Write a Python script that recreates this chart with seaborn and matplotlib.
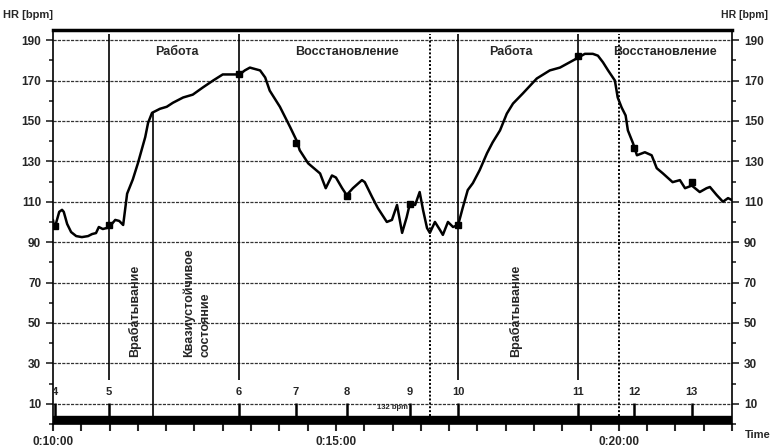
import numpy as np
import pandas as pd
import matplotlib.pyplot as plt
import seaborn as sns
from matplotlib.ticker import MultipleLocator, FuncFormatter

# heart rate trace, time in minutes of the session
time_min = [10.00, 10.02, 10.05, 10.11, 10.16, 10.19, 10.25, 10.32, 10.41, 10.51,
            10.62, 10.69, 10.76, 10.81, 10.88, 10.95, 11.01, 11.10, 11.17, 11.24,
            11.31, 11.41, 11.50, 11.57, 11.63, 11.68, 11.75, 11.89, 12.01, 12.12,
            12.30, 12.47, 12.65, 12.83, 13.00, 13.18, 13.30, 13.39, 13.48, 13.53,
            13.66, 13.75, 13.83, 14.01, 14.19, 14.31, 14.36, 14.51, 14.72, 14.82,
            14.93, 15.00, 15.11, 15.19, 15.30, 15.46, 15.51, 15.64, 15.74, 15.90,
            15.99, 16.08, 16.17, 16.25, 16.31, 16.40, 16.48, 16.54, 16.61, 16.66,
            16.75, 16.84, 16.89, 16.98, 17.07, 17.16, 17.24, 17.33, 17.42, 17.54,
            17.67, 17.77, 17.90, 18.02, 18.13, 18.30, 18.55, 18.78, 18.96, 19.13,
            19.28, 19.40, 19.54, 19.63, 19.72, 19.81, 19.93, 19.98, 20.05, 20.12,
            20.16, 20.25, 20.32, 20.46, 20.58, 20.67, 20.78, 20.95, 21.08, 21.17,
            21.29, 21.43, 21.55, 21.61, 21.73, 21.84, 21.93, 22.00]
hr_bpm = [101, 97, 99, 105, 106, 105, 99, 95, 93, 92.5,
          93, 94, 94.5, 97.5, 96.5, 97, 98, 101, 100.5, 98.5,
          114, 121, 129, 136, 142, 149, 154, 156, 157, 159,
          161.6, 163, 166.6, 170, 173, 173, 173, 175, 176.4, 176,
          175, 171.5, 165, 157, 147, 140, 135.5, 129, 124, 116.7,
          123, 122, 116.7, 113.3, 116.7, 120.7, 119.7, 112.3, 106.9, 100,
          101, 108.4, 94.6, 102.3, 109.4, 108.4, 114.8, 105.9, 97, 94.6,
          100, 96, 93.6, 100, 97.5, 98.5, 106.9, 115.8, 119.2, 125.6,
          134, 139.4, 145.3, 153.6, 158.6, 163.5, 171, 175, 176.4, 179,
          181.3, 183.2, 183.2, 182.3, 179, 175, 170, 161.6, 156.6, 152.7,
          145.3, 139, 133, 134.5, 133, 126.6, 124, 119.7, 120.7, 116.7,
          118, 114.8, 116.7, 117.3, 113.3, 110, 111.8, 110.8]

lap_no = [4, 5, 6, 7, 8, 9, 10, 11, 12, 13]
lap_time = [10.03, 10.99, 13.29, 14.29, 15.19, 16.31, 17.16, 19.28, 20.27, 21.29]
lap_hr = [98, 98.5, 173, 139, 113, 109, 98.5, 182, 136.5, 120]
long_laps = [5, 6, 10, 11]

phase_labels = ["Работа", "Восстановление", "Работа", "Восстановление"]
phase_x = [12.19, 15.19, 18.09, 20.81]
side_labels = ["Врабатывание", "Квазиустойчивое\nсостояние", "Врабатывание"]
side_x = [11.45, 12.55, 18.18]

df = pd.DataFrame({"t": time_min, "hr": hr_bpm})

sns.set_style("white")
plt.rcParams['font.family'] = ['Liberation Sans', 'DejaVu Sans']

fig = plt.figure(figsize=(7.7, 4.48), dpi=100)
ax = fig.add_axes([53 / 770, 24 / 448, 679 / 770, 394 / 448])

ax.set_xlim(10, 22)
ax.set_ylim(0, 195)

# grid
for y in range(10, 191, 20):
    ax.axhline(y, color='#333333', lw=0.9, ls=(0, (2.5, 1)), zorder=1)

# bottom black band
ax.axhspan(0, 4, color='black', zorder=2)

# lap markers and phase boundaries
for t, no in zip(lap_time, lap_no):
    if no in long_laps:
        ax.vlines(t, 22, 193, color='black', lw=1.2, zorder=3)
    ax.vlines(t, 4, 10.5, color='black', lw=1.8, zorder=3)
    ax.text(t, 16, str(no), ha='center', va='center', fontsize=8,
            fontweight='bold', clip_on=True, zorder=4)
ax.vlines(11.77, 4, 154, color='black', lw=1.2, zorder=3)
ax.vlines([16.66, 20.0], 4, 193, color='black', lw=1.4, ls=(0, (1, 1)), zorder=3)

sns.lineplot(data=df, x="t", y="hr", color='black', lw=1.8, ax=ax, zorder=5)
ax.plot(lap_time, lap_hr, ls='none', marker='s', ms=4, color='black', zorder=6)

for lab, x in zip(phase_labels, phase_x):
    ax.text(x, 184, lab, ha='center', va='center', fontsize=9, fontweight='bold')
for lab, x in zip(side_labels, side_x):
    ax.text(x, 33, lab, ha='center', va='bottom', rotation=90, fontsize=9,
            fontweight='bold', multialignment='left', linespacing=1.45)
ax.text(16.0, 8, "132 bpm", ha='center', va='center', fontsize=5.5,
        fontweight='bold', zorder=4)

# axes styling
for s in ['left', 'right', 'bottom']:
    ax.spines[s].set_color('black')
    ax.spines[s].set_linewidth(1.2)
ax.spines['top'].set_color('black')
ax.spines['top'].set_linewidth(2.5)

ax.set_yticks(range(10, 191, 20))
ax.yaxis.set_minor_locator(MultipleLocator(10))
ax.xaxis.set_major_locator(MultipleLocator(5))
ax.xaxis.set_minor_locator(MultipleLocator(0.5))
ax.xaxis.set_major_formatter(FuncFormatter(lambda v, p: f"0:{int(v):02d}:00"))
ax.tick_params(axis='y', which='both', left=True, right=True, labelright=True,
               direction='out', labelsize=8.5, width=1.2)
ax.tick_params(axis='y', which='major', length=5)
ax.tick_params(axis='y', which='minor', length=3)
ax.tick_params(axis='x', which='both', bottom=True, direction='out',
               labelsize=8.5, width=1.5, length=5)
for lbl in ax.get_xticklabels() + ax.get_yticklabels():
    lbl.set_fontweight('bold')
ax.set_xlabel("")
ax.set_ylabel("")

fig.text(0.004, 0.955, "HR [bpm]", fontsize=8, fontweight='bold', ha='left', va='bottom')
fig.text(0.997, 0.955, "HR [bpm]", fontsize=7.5, fontweight='bold', ha='right', va='bottom')
fig.text(0.968, 0.03, "Time", fontsize=8, fontweight='bold', ha='left', va='center')

fig.savefig("out.png", dpi=100)
